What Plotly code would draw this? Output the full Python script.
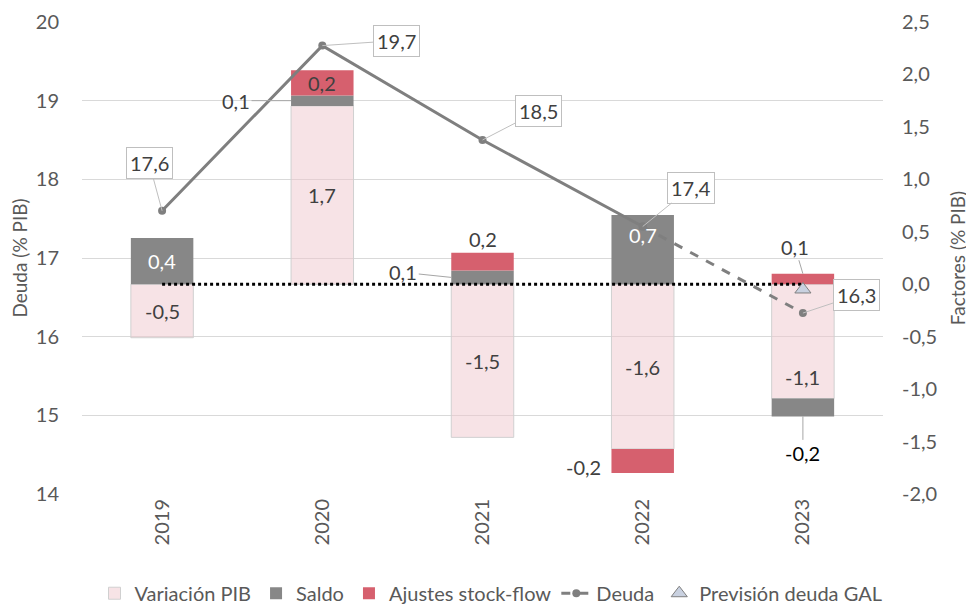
import plotly.graph_objects as go

years = ["2019", "2020", "2021", "2022", "2023"]
variacion_pib = [-0.51, 1.70, -1.46, -1.57, -1.09]
saldo = [0.44, 0.10, 0.13, 0.66, -0.17]
ajustes = [0.0, 0.24, 0.17, -0.23, 0.10]
deuda = [17.6, 19.7, 18.5, 17.4, 16.3]
prevision_gal = [None, None, None, None, 16.6]
zero_line = [0, 0, 0, 0, 0]

left_ticks = [14, 15, 16, 17, 18, 19, 20]
left_ticktext = ["14", "15", "16", "17", "18", "19", "20"]
right_ticks = [-2.0, -1.5, -1.0, -0.5, 0.0, 0.5, 1.0, 1.5, 2.0, 2.5]
right_ticktext = ["-2,0", "-1,5", "-1,0", "-0,5", "0,0", "0,5", "1,0", "1,5", "2,0", "2,5"]

FONT = "Lato"
TXT = "#404040"
TICK = "#595959"
C_PIB = "rgba(240,200,205,0.5)"
C_SALDO = "#878787"
C_AJ = "#d6606e"
C_LINE = "#7f7f7f"
BAR_W = 0.39
FS = 20

fig = go.Figure()
fig.add_trace(go.Bar(x=years, y=variacion_pib, name="Variación PIB", yaxis="y",
                     marker=dict(color=C_PIB, line=dict(color="#d0d0d0", width=1)), width=BAR_W))
fig.add_trace(go.Bar(x=years, y=saldo, name="Saldo", yaxis="y",
                     marker=dict(color=C_SALDO, line=dict(width=0)), width=BAR_W))
fig.add_trace(go.Bar(x=years, y=ajustes, name="Ajustes stock-flow", yaxis="y",
                     marker=dict(color=C_AJ, line=dict(width=0)), width=BAR_W))
fig.add_trace(go.Scatter(x=years, y=zero_line, mode="lines", yaxis="y", showlegend=False,
                         line=dict(color="black", width=3, dash="3px,3px"), hoverinfo="skip"))
fig.add_trace(go.Scatter(x=years[:4], y=deuda[:4], mode="lines+markers", yaxis="y2", showlegend=False,
                         line=dict(color=C_LINE, width=3), marker=dict(size=8, color=C_LINE)))
fig.add_trace(go.Scatter(x=years[3:], y=deuda[3:], mode="lines+markers", yaxis="y2", name="Deuda",
                         line=dict(color=C_LINE, width=3, dash="dash"), marker=dict(size=8, color=C_LINE)))
fig.add_trace(go.Scatter(x=years, y=prevision_gal, mode="markers", yaxis="y2", name="Previsión deuda GAL",
                         marker=dict(symbol="triangle-up", size=14, color="#c9d1e0",
                                     line=dict(color="#7f7f7f", width=1))))

def fmt(v):
    return f"{v:.1f}".replace(".", ",")

# stacking (relative mode) to find segment extents
series = {"pib": variacion_pib, "saldo": saldo, "aj": ajustes}
seg = {k: [None] * len(years) for k in series}
for i in range(len(years)):
    pos, neg = 0.0, 0.0
    for k in ["pib", "saldo", "aj"]:
        v = series[k][i]
        if v >= 0:
            seg[k][i] = (pos, pos + v); pos += v
        else:
            seg[k][i] = (neg, neg + v); neg += v

ann = []
def center_label(k, i, color=TXT, yshift=0):
    a, b = seg[k][i]
    ann.append(dict(x=i, y=(a + b) / 2, xref="x", yref="y", text=fmt(series[k][i]), showarrow=False,
                    font=dict(family=FONT, size=FS, color=color), yshift=yshift))

def callout(k, i, tipx, tipy, ax, ay, color=TXT):
    ann.append(dict(x=tipx, y=tipy, xref="x", yref="y", text=fmt(series[k][i]), showarrow=True,
                    arrowhead=0, arrowwidth=1, arrowcolor="#a6a6a6", ax=ax, ay=ay,
                    font=dict(family=FONT, size=FS, color=color)))

center_label("saldo", 0, color="white")
center_label("pib", 0)
center_label("pib", 1)
a, b = seg["saldo"][1]; callout("saldo", 1, 1 - BAR_W / 2, (a + b) / 2, -55, 0)
center_label("aj", 1)
center_label("pib", 2)
a, b = seg["saldo"][2]; callout("saldo", 2, 2 - BAR_W / 2, (a + b) / 2, -48, -5)
a, b = seg["aj"][2]
ann.append(dict(x=2, y=max(a, b), xref="x", yref="y", text=fmt(ajustes[2]), showarrow=False,
                yanchor="bottom", font=dict(family=FONT, size=FS, color=TXT)))
center_label("saldo", 3, color="white", yshift=15)
center_label("pib", 3)
a, b = seg["aj"][3]
ann.append(dict(x=3 - BAR_W / 2, y=(a + b) / 2, xref="x", yref="y", text=fmt(ajustes[3]), showarrow=False,
                xanchor="right", xshift=-8, yshift=-6, font=dict(family=FONT, size=FS, color=TXT)))
center_label("pib", 4, yshift=-36)
a, b = seg["saldo"][4]; callout("saldo", 4, 4, min(a, b), 0, 37, color="black")
a, b = seg["aj"][4]; callout("aj", 4, 4, max(a, b), -8, -27)

# Deuda labels
deuda_offsets = [(-13, -48), (74, -5), (56, -29), (48, -39), (54, -18)]
for i, (v, (ax, ay)) in enumerate(zip(deuda, deuda_offsets)):
    ann.append(dict(x=i, y=v, xref="x", yref="y2", text=fmt(v), showarrow=True, arrowhead=0,
                    arrowwidth=1, arrowcolor="#bfbfbf", ax=ax, ay=ay, bgcolor="white",
                    bordercolor="#bfbfbf", borderwidth=1, borderpad=3,
                    font=dict(family=FONT, size=FS, color=TXT)))

# page body adds an 8px margin, so the figure is sized to fit the 974x607 window
fig.update_layout(
    width=966, height=599,
    margin=dict(l=74, r=91, t=14, b=113),
    plot_bgcolor="white", paper_bgcolor="white",
    barmode="relative", bargap=0.6,
    separators=", ",
    font=dict(family=FONT, size=FS, color=TICK),
    xaxis=dict(type="category", tickangle=-90, showgrid=False, showline=False, ticks="",
               tickfont=dict(size=FS, color=TICK), range=[-0.5, 4.5], automargin=False),
    yaxis=dict(side="right", range=[-2.0, 2.5], tickvals=right_ticks, ticktext=right_ticktext,
               showgrid=False, zeroline=False, showline=False, ticks="", ticklabelstandoff=18,
               tickfont=dict(size=FS, color=TICK), automargin=False,
               title=dict(text="Factores (% PIB)", font=dict(size=19, color=TICK))),
    yaxis2=dict(side="left", overlaying="y", range=[14, 20], tickvals=left_ticks, ticktext=left_ticktext,
                showgrid=True, gridcolor="#d9d9d9", gridwidth=1, zeroline=False, showline=False, ticks="",
                ticklabelstandoff=22, tickfont=dict(size=FS, color=TICK), automargin=False,
                title=dict(text="Deuda (% PIB)", font=dict(size=19, color=TICK))),
    legend=dict(orientation="h", xref="container", yref="container", x=0.5, xanchor="center",
                y=0.023, yanchor="middle", traceorder="normal", font=dict(size=20, color=TICK)),
    annotations=ann,
    showlegend=True,
)

fig.write_html("out.html")
